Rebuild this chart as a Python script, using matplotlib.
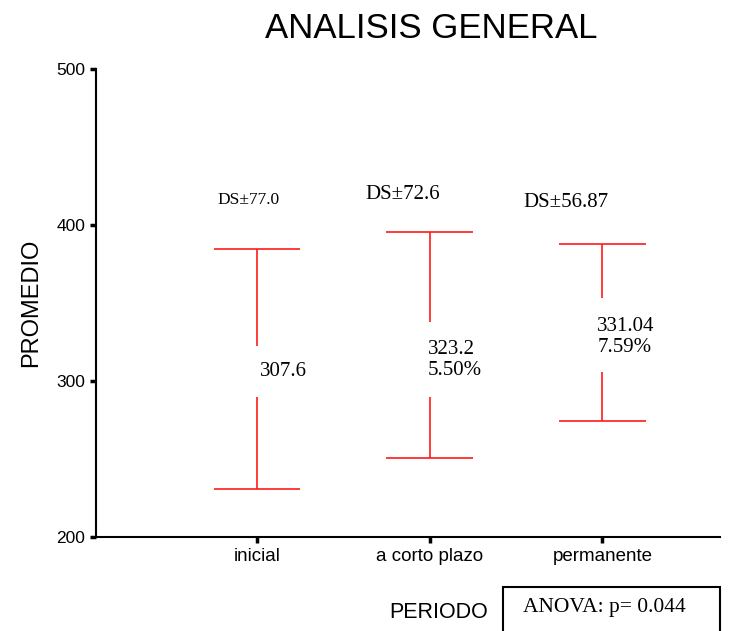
import matplotlib
matplotlib.use("Agg")
import matplotlib.pyplot as plt
from matplotlib.patches import Rectangle

categories = ["inicial", "a corto plazo", "permanente"]
means = [307.6, 323.2, 331.04]
sds = [77.0, 72.6, 56.87]
mean_labels = ["307.6", "323.2\n5.50%", "331.04\n7.59%"]
sd_labels = ["DS±77.0", "DS±72.6", "DS±56.87"]
# gap in the vertical line around the value labels
gap_lo = [289.7, 289.7, 305.8]
gap_hi = [322.4, 337.8, 353.2]
yticks = [200, 300, 400, 500]

W, H = 749, 631
fig = plt.figure(figsize=(W / 100, H / 100), dpi=100)
ax = fig.add_axes([96 / W, (H - 537) / H, (720 - 96) / W, (537 - 69) / H])

xs = [1, 2, 3]
red = "#ff1a1a"
lw = 1.2
cap = 0.25
for x, m, s, lo, hi in zip(xs, means, sds, gap_lo, gap_hi):
    ax.vlines(x, m - s, lo, color=red, lw=lw)
    ax.vlines(x, hi, m + s, color=red, lw=lw)
    ax.hlines([m - s, m + s], x - cap, x + cap, color=red, lw=lw)

serif = "Liberation Serif"
ax.text(1.02, 306.4, mean_labels[0], family=serif, fontsize=15, va="center", ha="left")
ax.text(1.99, 313.5, mean_labels[1], family=serif, fontsize=15, va="center", ha="left", linespacing=1.15)
ax.text(2.97, 328.2, mean_labels[2], family=serif, fontsize=15, va="center", ha="left", linespacing=1.15)

ax.text(0.77, 415.8, sd_labels[0], family=serif, fontsize=12.5, va="center", ha="left")
ax.text(1.63, 419.7, sd_labels[1], family=serif, fontsize=15, va="center", ha="left")
ax.text(2.54, 414.5, sd_labels[2], family=serif, fontsize=15, va="center", ha="left")

ax.set_xlim(0.07, 3.68)
ax.set_ylim(200, 500)
ax.set_yticks(yticks)
ax.set_xticks(xs)
ax.set_xticklabels(categories)
sans = "Liberation Sans"
for lab in ax.get_xticklabels():
    lab.set_family(sans)
    lab.set_fontsize(13.5)
for lab in ax.get_yticklabels():
    lab.set_family(sans)
    lab.set_fontsize(12.5)
ax.tick_params(axis="both", direction="out", length=4, width=2.5)
ax.tick_params(axis="y", pad=3.6)
ax.tick_params(axis="x", pad=4)
for sp in ["top", "right"]:
    ax.spines[sp].set_visible(False)
for sp in ["left", "bottom"]:
    ax.spines[sp].set_linewidth(1.5)

ax.set_ylabel("PROMEDIO", family=sans, fontsize=17, labelpad=10)

fig.text(431.5 / W, 1 - 38 / H, "ANALISIS GENERAL", family=sans, fontsize=25, ha="center", va="baseline")
fig.text(389 / W, 1 - 618 / H, "PERIODO", family=sans, fontsize=15.5, ha="left", va="baseline")

fig.patches.append(Rectangle((503 / W, -0.05), (720 - 503) / W, (H - 587) / H + 0.05,
                             transform=fig.transFigure, fill=False, ec="black", lw=1.5))
fig.text(604.5 / W, 1 - 612 / H, "ANOVA: p= 0.044", family=serif, fontsize=15.5, ha="center", va="baseline")

fig.savefig("out.png", dpi=100)
